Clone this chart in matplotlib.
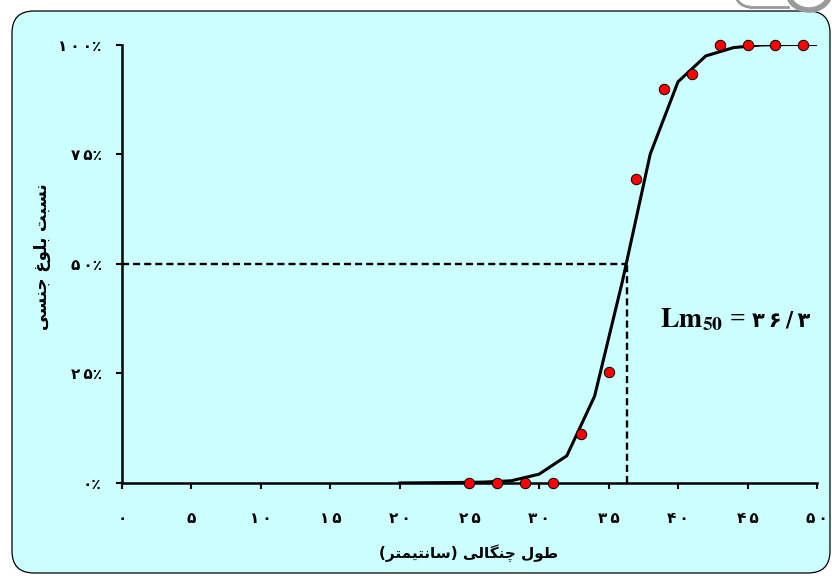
import matplotlib
matplotlib.use("Agg")
import matplotlib.pyplot as plt
from matplotlib.patches import FancyBboxPatch, Arc

# length classes (cm) and observed share of mature fish (%)
length_obs = [25, 27, 29, 31, 33, 35, 37, 39, 41, 43, 45, 47, 49]
mature_obs = [0, 0, 0, 0, 11.2, 25.2, 69.3, 89.9, 93.2, 100, 100, 100, 100]

# fitted logistic curve
length_fit = [20, 22, 24, 26, 28, 30, 32, 34, 36, 38, 40, 42, 44, 46, 48, 50]
mature_fit = [0, 0.05, 0.1, 0.2, 0.5, 2.0, 6.2, 19.8, 46, 75, 91.5, 97.4, 99.3, 99.9, 100, 100]

LM50 = 36.3
x_ticks = [0, 5, 10, 15, 20, 25, 30, 35, 40, 45, 50]
y_ticks = [0, 25, 50, 75, 100]

x_label = "طول چنگالی (سانتیمتر)"
y_label = "نسبت بلوغ جنسی"

FA_DIGITS = str.maketrans("0123456789", "۰۱۲۳۴۵۶۷۸۹")
THIN = "\u2009"

# isolated, final, initial, medial presentation forms
FORMS = {
    "ا": ("\uFE8D", "\uFE8E", None, None),
    "ب": ("\uFE8F", "\uFE90", "\uFE91", "\uFE92"),
    "ت": ("\uFE95", "\uFE96", "\uFE97", "\uFE98"),
    "ج": ("\uFE9D", "\uFE9E", "\uFE9F", "\uFEA0"),
    "ر": ("\uFEAD", "\uFEAE", None, None),
    "س": ("\uFEB1", "\uFEB2", "\uFEB3", "\uFEB4"),
    "ط": ("\uFEC1", "\uFEC2", "\uFEC3", "\uFEC4"),
    "غ": ("\uFECD", "\uFECE", "\uFECF", "\uFED0"),
    "ل": ("\uFEDD", "\uFEDE", "\uFEDF", "\uFEE0"),
    "م": ("\uFEE1", "\uFEE2", "\uFEE3", "\uFEE4"),
    "ن": ("\uFEE5", "\uFEE6", "\uFEE7", "\uFEE8"),
    "و": ("\uFEED", "\uFEEE", None, None),
    "چ": ("\uFB7A", "\uFB7B", "\uFB7C", "\uFB7D"),
    "گ": ("\uFB92", "\uFB93", "\uFB94", "\uFB95"),
    "ی": ("\uFBFC", "\uFBFD", "\uFBFE", "\uFBFF"),
}


def shape(text):
    # join letters and flip to visual order, matplotlib has no bidi
    out = []
    for i, ch in enumerate(text):
        if ch not in FORMS:
            out.append(ch)
            continue
        prev = text[i - 1] if i > 0 else ""
        nxt = text[i + 1] if i + 1 < len(text) else ""
        iso, fin, ini, med = FORMS[ch]
        join_prev = prev in FORMS and FORMS[prev][2] is not None
        join_next = ini is not None and nxt in FORMS
        if join_prev and join_next:
            out.append(med)
        elif join_prev:
            out.append(fin)
        elif join_next:
            out.append(ini)
        else:
            out.append(iso)
    s = "".join(out)[::-1]
    return s.translate(str.maketrans("()", ")("))


def fa_num(text):
    # persian digits, spread a little like the original font
    return THIN.join(str(text).translate(FA_DIGITS))


plt.rcParams["font.family"] = ["DejaVu Sans"]
plt.rcParams["font.weight"] = "bold"
plt.rcParams["mathtext.fontset"] = "stix"

fig = plt.figure(figsize=(8.32, 5.76), dpi=100)
fig.patch.set_facecolor("white")
bg = FancyBboxPatch((0.12, 0.03), 8.18, 5.62, boxstyle="round,pad=0,rounding_size=0.22",
                    transform=fig.dpi_scale_trans, facecolor="#CCFFFF", edgecolor="black",
                    linewidth=0.9, zorder=-2)
fig.patches.append(bg)
# bits of the watermark at the top right
fig.patches.append(Arc((8.09, 5.84), 0.42, 0.36, theta1=180, theta2=360,
                       transform=fig.dpi_scale_trans, color="#9a9a9a", linewidth=4, zorder=-1))
fig.patches.append(Arc((7.5, 5.84), 0.3, 0.3, theta1=180, theta2=270,
                       transform=fig.dpi_scale_trans, color="#9a9a9a", linewidth=2, zorder=-1))
fig.lines.append(plt.Line2D([7.5, 7.88], [5.69, 5.69], transform=fig.dpi_scale_trans,
                            color="#9a9a9a", linewidth=2, zorder=-1))

ax = fig.add_axes([0.1466, 0.1615, 0.8354, 0.7612])
ax.set_zorder(1)
ax.patch.set_alpha(0)

ax.plot([0, LM50], [50, 50], color="black", lw=1.7, ls=(0, (3.0, 1.7)), zorder=2)
ax.plot([LM50, LM50], [0, 50], color="black", lw=1.7, ls=(0, (3.0, 1.7)), zorder=2)
ax.plot(length_fit, mature_fit, color="black", lw=2.2, zorder=3)
ax.plot(length_obs, mature_obs, "o", color="red", markersize=7.5,
        markeredgecolor="black", markeredgewidth=0.7, zorder=4, clip_on=False)

ax.set_xlim(0, 50)
ax.set_ylim(0, 100)
for side in ["top", "right"]:
    ax.spines[side].set_visible(False)
for side in ["left", "bottom"]:
    ax.spines[side].set_linewidth(1.8)

ax.set_xticks(x_ticks)
ax.set_xticklabels([fa_num(v) for v in x_ticks])
ax.set_yticks(y_ticks)
ax.set_yticklabels([fa_num(v) + "٪" for v in y_ticks])
ax.tick_params(axis="both", direction="out", length=4.5, width=1.5, labelsize=11)
ax.tick_params(axis="x", pad=16)
ax.tick_params(axis="y", pad=10)

fig.text(0.563, 0.04, shape(x_label), ha="center", va="center", fontsize=11, fontweight="bold")
fig.text(0.05, 0.554, shape(y_label), ha="center", va="center", rotation=90,
         fontsize=12, fontweight="bold")

ax.text(38.7, 35.6, r"$\mathbf{Lm_{50}}$ =", fontsize=20, fontfamily="Liberation Serif",
        fontweight="bold", ha="left", va="baseline")
ax.text(45.3, 35.6, fa_num(str(LM50).replace(".", "/")), fontsize=15,
        fontweight="bold", ha="left", va="baseline")

fig.savefig("out.png", dpi=100)
